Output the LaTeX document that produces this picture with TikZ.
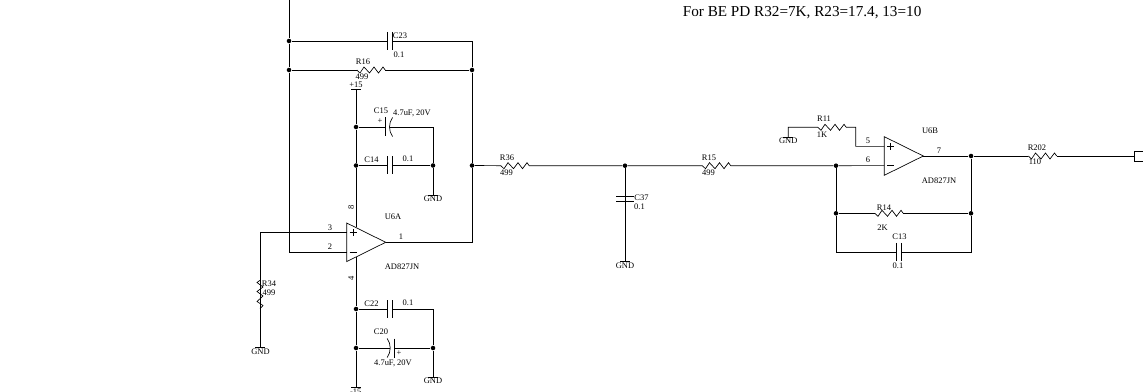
\documentclass[tikz,border=0pt]{standalone}
\usepackage{fontspec}
\setmainfont{Liberation Serif}
\tikzset{
    dot/.style={circle, fill=black, inner sep=0pt, minimum size=3.4pt},
    lbl/.style={inner sep=0pt, font=\fontsize{6.35}{7}\selectfont},
    note/.style={inner sep=0pt, anchor=west, font=\fontsize{11.4}{13}\selectfont},
    pics/rbox/.style={code={
        \coordinate (-l) at (-14.2,0);
        \coordinate (-r) at (14.2,0);
        \draw (-l) -- (-11,3) -- (-7,-3) -- (-1.5,3) -- (3,-3) -- (7.5,3) -- (12,-3) -- (-r);
    }},
    pics/cbox/.style={code={
        \coordinate (-l) at (-2.3,0);
        \coordinate (-r) at (2.3,0);
        \draw (-2.3,-9) -- (-2.3,9) (2.3,-9) -- (2.3,9);
    }},
    pics/ebox/.style={code={
        \coordinate (-p) at (-2,0);
        \coordinate (-b) at (2.5,0);
        \draw (-2,-9.5) -- (-2,9.5);
        \draw (5.5,-9.5) .. controls (1.5,-4) and (1.5,4) .. (5.5,9.5);
    }},
    pics/gndbar/.style={code={
        \coordinate (-t) at (0,0);
        \draw (-5,0) -- (5,0);
    }},
    pics/amp/.style={code={
        \coordinate (-p) at (-19.5,-9.6);
        \coordinate (-m) at (-19.5,9.6);
        \coordinate (-o) at (19.5,0);
        \draw (-19.5,-19.3) -- (-19.5,19.3) -- (19.5,0) -- cycle;
        \draw (-16.5,-9.6) -- (-9.5,-9.6) (-13,-13) -- (-13,-6.2);
        \draw (-16.5,9.6) -- (-9.5,9.6);
    }},
}
\begin{document}
\begin{tikzpicture}[x=0.75pt, y=-0.75pt, line width=0.5pt]
    \useasboundingbox (0,0) rectangle (1143,392);

    % first stage
    \pic (U6A) at (366.2,242.3) {amp};
    \coordinate (top) at (289,0);
    \node[dot] (j1) at (289,41) {};
    \node[dot] (j2) at (289,70) {};
    \node[dot] (j3) at (472,70) {};
    \node[dot] (j4) at (472,165.5) {};
    \coordinate (fbin) at (289,251.9);
    \coordinate (outcorner) at (472,242.3);
    \coordinate (c23end) at (472,41);
    \draw (top) -- (j1) -- (j2) -- (fbin) -- (U6A-m);
    \pic (C23) at (390,41) {cbox};
    \draw (j1) -- (C23-l) (C23-r) -- (c23end) -- (j3) -- (j4) -- (outcorner) -- (U6A-o);
    \pic (R16) at (371,70) {rbox};
    \draw (j2) -- (R16-l) (R16-r) -- (j3);

    \coordinate (inleft) at (260,232.7);
    \draw (U6A-p) -- (inleft);
    \pic[rotate=90] (R34) at (260,294.5) {rbox};
    \pic (G1) at (260,347) {gndbar};
    \draw (inleft) -- (R34-l) (R34-r) -- (G1-t);

    % supplies
    \pic (P15) at (356,89) {gndbar};
    \node[dot] (j5) at (356,127) {};
    \node[dot] (j6) at (356,165.5) {};
    \coordinate (a8) at (356,227.4);
    \draw (P15-t) -- (j5) -- (j6) -- (a8);
    \coordinate (c15end) at (433,127);
    \node[dot] (j7) at (433,165.5) {};
    \pic (G2) at (433,195) {gndbar};
    \pic (C15) at (387,127) {ebox};
    \pic (C14) at (389.7,165.5) {cbox};
    \draw (j5) -- (C15-p) (C15-b) -- (c15end) -- (j7) -- (G2-t);
    \draw (j6) -- (C14-l) (C14-r) -- (j7);

    \coordinate (a4) at (356,257.2);
    \node[dot] (j8) at (356,309) {};
    \node[dot] (j9) at (356,348) {};
    \pic (M15) at (356,387) {gndbar};
    \draw (a4) -- (j8) -- (j9) -- (M15-t);
    \coordinate (c22end) at (433,309);
    \node[dot] (j10) at (433,348) {};
    \pic (G3) at (433,377) {gndbar};
    \pic (C22) at (389.7,309) {cbox};
    \pic[xscale=-1] (C20) at (392.7,348) {ebox};
    \draw (j8) -- (C22-l) (C22-r) -- (c22end) -- (j10) -- (G3-t);
    \draw (j9) -- (C20-b) (C20-p) -- (j10);

    % filter
    \pic (R36) at (515,165.7) {rbox};
    \node[dot] (j11) at (625,165.7) {};
    \pic (R15) at (716.5,165.7) {rbox};
    \node[dot] (j12) at (836,165.7) {};
    \pic[rotate=90] (C37) at (625,198.7) {cbox};
    \pic (G4) at (625,261.7) {gndbar};
    \draw (j4) -- (R36-l) (R36-r) -- (j11) -- (R15-l) (R15-r) -- (j12);
    \draw (j11) -- (C37-l) (C37-r) -- (G4-t);

    % second stage
    \pic (U6B) at (903.8,156) {amp};
    \draw (j12) -- (U6B-m);
    \pic (R11) at (832,127.3) {rbox};
    \pic (G5) at (788.3,137) {gndbar};
    \coordinate (r11left) at (788.3,127.3);
    \coordinate (r11right) at (855.7,127.3);
    \coordinate (pin5) at (855.7,146.4);
    \draw (G5-t) -- (r11left) -- (R11-l) (R11-r) -- (r11right) -- (pin5) -- (U6B-p);
    \node[dot] (j13) at (971,156) {};
    \node[dot] (j14) at (836,213.3) {};
    \node[dot] (j15) at (971,213.3) {};
    \coordinate (c13l) at (836,252);
    \coordinate (c13r) at (971,252);
    \pic (R14) at (889,213.3) {rbox};
    \pic (C13) at (898.8,252) {cbox};
    \draw (U6B-o) -- (j13) -- (j15) -- (c13r) -- (C13-r) (C13-l) -- (c13l) -- (j14) -- (j12);
    \draw (j14) -- (R14-l) (R14-r) -- (j15);
    \pic (R202) at (1042.5,156) {rbox};
    \coordinate (conn) at (1134,156);
    \coordinate (conna) at (1146,151);
    \coordinate (connb) at (1134,151);
    \coordinate (connc) at (1134,161);
    \coordinate (connd) at (1146,161);
    \draw (j13) -- (R202-l) (R202-r) -- (conn);
    \draw (conna) -- (connb) -- (connc) -- (connd);

    % labels
    \node[note] (title) at (682.5,12.5) {For BE PD R32=7K, R23=17.4, 13=10};
    \node[lbl] (tC23) at (400,35.5) {C23};
    \node[lbl] (vC23) at (399,55) {0.1};
    \node[lbl] (tR16) at (363,62) {R16};
    \node[lbl] (vR16) at (362,76.5) {499};
    \node[lbl] (tp15) at (356,84.5) {+15};
    \node[lbl] (tC15) at (381,111) {C15};
    \node[lbl] (vC15) at (412,113) {4.7uF, 20V};
    \node[lbl] (pC15) at (380,121) {+};
    \node[lbl] (tC14) at (371.5,160) {C14};
    \node[lbl] (vC14) at (408,159) {0.1};
    \node[lbl] (tG2) at (433,198.5) {GND};
    \node[lbl, rotate=90] (p8) at (351,207) {8};
    \node[lbl] (tU6A) at (393,217) {U6A};
    \node[lbl] (p3) at (330,228) {3};
    \node[lbl] (p2) at (330,247) {2};
    \node[lbl] (p1) at (401,237) {1};
    \node[lbl] (tAmpA) at (402,267) {AD827JN};
    \node[lbl, rotate=90] (p4) at (351,278) {4};
    \node[lbl] (tR34) at (269,284) {R34};
    \node[lbl] (vR34) at (269,293) {499};
    \node[lbl] (tG1) at (260.5,351.5) {GND};
    \node[lbl] (tC22) at (371.5,304) {C22};
    \node[lbl] (vC22) at (408,303) {0.1};
    \node[lbl] (tC20) at (381,332) {C20};
    \node[lbl] (vC20) at (393,363) {4.7uF, 20V};
    \node[lbl] (pC20) at (399,353.5) {+};
    \node[lbl] (tG3) at (433,381) {GND};
    \node[lbl] (tM15) at (355.7,391.5) {-15};
    \node[lbl] (tR36) at (507,158) {R36};
    \node[lbl] (vR36) at (506.5,172.5) {499};
    \node[lbl] (tR15) at (709,158) {R15};
    \node[lbl] (vR15) at (708.5,172.5) {499};
    \node[lbl] (tC37) at (641.5,198) {C37};
    \node[lbl] (vC37) at (639.5,207) {0.1};
    \node[lbl] (tG4) at (625,266) {GND};
    \node[lbl] (tR11) at (824,119) {R11};
    \node[lbl] (vR11) at (822,135) {1K};
    \node[lbl] (tG5) at (788.3,141) {GND};
    \node[lbl] (p5) at (868,141) {5};
    \node[lbl] (p6) at (868,160) {6};
    \node[lbl] (p7) at (939,151) {7};
    \node[lbl] (tU6B) at (930,131) {U6B};
    \node[lbl] (tAmpB) at (939,181) {AD827JN};
    \node[lbl] (tR14) at (884,208) {R14};
    \node[lbl] (vR14) at (882.5,228) {2K};
    \node[lbl] (tC13) at (899.5,237) {C13};
    \node[lbl] (vC13) at (898,266) {0.1};
    \node[lbl] (tR202) at (1037,148) {R202};
    \node[lbl] (vR202) at (1035,162) {110};
\end{tikzpicture}
\end{document}
